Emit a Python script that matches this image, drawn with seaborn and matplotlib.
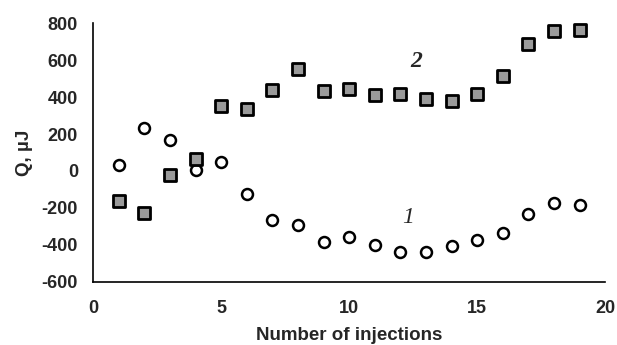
import matplotlib
matplotlib.use("Agg")
import matplotlib.pyplot as plt
import seaborn as sns
import pandas as pd

injections = list(range(1, 20))
series1 = [32, 234, 167, 5, 50, -126, -265, -294, -387, -356, -400, -439, -439, -408, -376, -337, -234, -175, -184]
series2 = [-162, -230, -20, 63, 353, 338, 437, 554, 432, 446, 410, 419, 392, 380, 419, 513, 689, 759, 764]
xticks = [0, 5, 10, 15, 20]
yticks = [-600, -400, -200, 0, 200, 400, 600, 800]

sns.set_theme(style="white")
plt.rcParams['font.family'] = ['Liberation Sans', 'DejaVu Sans']

df = pd.DataFrame({
    "x": injections * 2,
    "Q": series1 + series2,
    "series": ["1"] * len(series1) + ["2"] * len(series2),
})

fig = plt.figure(figsize=(6.17, 3.45), dpi=100)
ax = fig.add_axes([0.151, 0.183, 0.830, 0.750])

sns.scatterplot(data=df[df.series == "1"], x="x", y="Q", marker="o", s=62,
                color="white", edgecolor="black", linewidth=1.8, ax=ax, legend=False, zorder=3)
sns.scatterplot(data=df[df.series == "2"], x="x", y="Q", marker="s", s=80,
                color="#9a9a9a", edgecolor="black", linewidth=2.0, ax=ax, legend=False, zorder=3)

ax.set_xlim(0, 20)
ax.set_ylim(-600, 800)
ax.set_xticks(xticks)
ax.set_yticks(yticks)
ax.set_xticklabels([str(t) for t in xticks], fontweight="bold", fontsize=13)
ax.set_yticklabels([str(t) for t in yticks], fontweight="bold", fontsize=13)
ax.tick_params(axis="both", direction="in", length=5, width=1, color="black")
ax.tick_params(axis="y", pad=11)
ax.tick_params(axis="x", pad=13)
for s in ["top", "right"]:
    ax.spines[s].set_visible(False)
for s in ["left", "bottom"]:
    ax.spines[s].set_color("black")
    ax.spines[s].set_linewidth(1.2)

ax.set_xlabel("Number of injections", fontweight="bold", fontsize=13.5, labelpad=7)
ax.set_ylabel("Q, µJ", fontweight="bold", fontsize=13.5, labelpad=6)

ax.text(12.6, 590, "2", fontfamily="Liberation Serif", fontstyle="italic",
        fontweight="bold", fontsize=17, ha="center", va="center")
ax.text(12.3, -254, "1", fontfamily="Liberation Serif", fontstyle="italic",
        fontsize=17, ha="center", va="center")

fig.savefig("out.png", dpi=100)
